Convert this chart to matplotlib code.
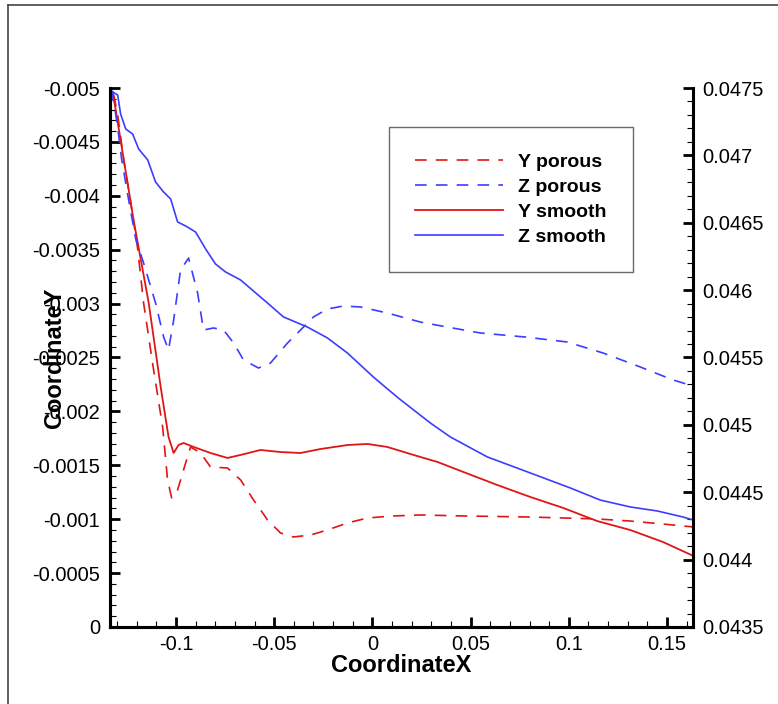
import matplotlib
matplotlib.use("Agg")
import matplotlib.pyplot as plt
from matplotlib.lines import Line2D
from matplotlib.ticker import MultipleLocator

plt.rcParams['font.family'] = ['Liberation Sans', 'DejaVu Sans']

# Y smooth (left axis)
y_smooth_x = [-0.1322, -0.1216, -0.1139, -0.1078, -0.1038, -0.1012, -0.0987, -0.0961,
              -0.0910, -0.0824, -0.0738, -0.0671, -0.0570, -0.0468, -0.0366, -0.0264,
              -0.0127, -0.0025, 0.0076, 0.0209, 0.0331, 0.0463, 0.0636, 0.0804,
              0.0972, 0.1144, 0.1312, 0.1480, 0.1633]
y_smooth = [-0.004963, -0.003776, -0.003006, -0.002226, -0.001763, -0.001614, -0.001688,
            -0.001707, -0.001670, -0.001614, -0.001568, -0.001596, -0.001642, -0.001623,
            -0.001614, -0.001651, -0.001688, -0.001698, -0.001670, -0.001596, -0.001531,
            -0.001438, -0.001317, -0.001206, -0.001104, -0.000983, -0.000900, -0.000788,
            -0.000660]

# Y porous (left axis)
y_porous_x = [-0.1317, -0.1297, -0.1267, -0.1231, -0.1195, -0.1165, -0.1114, -0.1068,
              -0.1043, -0.1022, -0.0992, -0.0951, -0.0926, -0.0875, -0.0824, -0.0738,
              -0.0671, -0.0605, -0.0534, -0.0468, -0.0402, -0.0315, -0.0229, -0.0127,
              -0.0025, 0.0107, 0.0244, 0.0463, 0.0804, 0.1144, 0.1312, 0.1480, 0.1633]
y_porous = [-0.004935, -0.004750, -0.004341, -0.003942, -0.003506, -0.003006, -0.002384,
            -0.001855, -0.001364, -0.001197, -0.001271, -0.001521, -0.001670, -0.001614,
            -0.001484, -0.001475, -0.001364, -0.001178, -0.000993, -0.000872, -0.000835,
            -0.000853, -0.000900, -0.000965, -0.001011, -0.001030, -0.001039, -0.001030,
            -0.001020, -0.001002, -0.000983, -0.000955, -0.000928]

# Z smooth (right axis)
z_smooth_x = [-0.1322, -0.1297, -0.1282, -0.1256, -0.1221, -0.1190, -0.1144, -0.1104,
              -0.1063, -0.1027, -0.0992, -0.0951, -0.0900, -0.0849, -0.0799, -0.0748,
              -0.0671, -0.0534, -0.0453, -0.0331, -0.0229, -0.0127, 0.0005, 0.0132,
              0.0295, 0.0397, 0.0585, 0.0804, 0.1007, 0.1160, 0.1312, 0.1450, 0.1582,
              0.1633]
z_smooth = [0.04747, 0.047448, 0.047307, 0.047196, 0.047159, 0.047047, 0.046966, 0.046802,
            0.046728, 0.046676, 0.046506, 0.046476, 0.046431, 0.046305, 0.046194, 0.046135,
            0.046075, 0.045904, 0.045801, 0.045726, 0.045645, 0.045533, 0.045355, 0.045199,
            0.045014, 0.044910, 0.044762, 0.044643, 0.044532, 0.044442, 0.044391, 0.044361,
            0.044316, 0.044294]

# Z porous (right axis)
z_porous_x = [-0.1328, -0.1307, -0.1292, -0.1277, -0.1241, -0.1205, -0.1165, -0.1104,
              -0.1063, -0.1038, -0.1012, -0.0977, -0.0936, -0.0890, -0.0860, -0.0809,
              -0.0758, -0.0707, -0.0656, -0.0580, -0.0519, -0.0432, -0.0366, -0.0300,
              -0.0229, -0.0148, -0.0061, 0.0076, 0.0244, 0.0381, 0.0549, 0.0778, 0.0992,
              0.1175, 0.1363, 0.1531, 0.1633]
z_porous = [0.047485, 0.047307, 0.047151, 0.046973, 0.046669, 0.046379, 0.046201, 0.045904,
            0.045652, 0.045556, 0.045778, 0.046149, 0.046238, 0.045979, 0.045704, 0.045719,
            0.045704, 0.045608, 0.045481, 0.045422, 0.045459, 0.045608, 0.045704, 0.045801,
            0.045860, 0.045882, 0.045875, 0.045830, 0.045763, 0.045726, 0.045682, 0.045652,
            0.045615, 0.045533, 0.045430, 0.045333, 0.045288]

x_ticks = [-0.1, -0.05, 0, 0.05, 0.1, 0.15]
x_labels = ['-0.1', '-0.05', '0', '0.05', '0.1', '0.15']
left_ticks = [-0.005, -0.0045, -0.004, -0.0035, -0.003, -0.0025, -0.002, -0.0015, -0.001, -0.0005, 0]
left_labels = ['-0.005', '-0.0045', '-0.004', '-0.0035', '-0.003', '-0.0025', '-0.002',
               '-0.0015', '-0.001', '-0.0005', '0']
right_ticks = [0.0435, 0.044, 0.0445, 0.045, 0.0455, 0.046, 0.0465, 0.047, 0.0475]
right_labels = ['0.0435', '0.044', '0.0445', '0.045', '0.0455', '0.046', '0.0465', '0.047', '0.0475']

RED = '#e01515'
BLUE = '#3d3dff'
DASH = (0, (7, 5.5))

fig = plt.figure(figsize=(7.78, 7.04), dpi=100)
ax = fig.add_axes([0.1414, 0.1094, 0.7493, 0.7656])
ax2 = ax.twinx()

l1, = ax.plot(y_porous_x, y_porous, color=RED, lw=1.2, linestyle=DASH, label='Y porous')
l3, = ax.plot(y_smooth_x, y_smooth, color=RED, lw=1.3, label='Y smooth')
l2, = ax2.plot(z_porous_x, z_porous, color=BLUE, lw=1.2, linestyle=DASH, label='Z porous')
l4, = ax2.plot(z_smooth_x, z_smooth, color=BLUE, lw=1.2, label='Z smooth')

ax.set_xlim(-0.1336, 0.1632)
ax.set_ylim(0, -0.005)
ax2.set_ylim(0.0435, 0.0475)

ax.set_xticks(x_ticks, x_labels)
ax.set_yticks(left_ticks, left_labels)
ax2.set_yticks(right_ticks, right_labels)
ax.xaxis.set_minor_locator(MultipleLocator(0.01))
ax.yaxis.set_minor_locator(MultipleLocator(0.0001))
ax2.yaxis.set_minor_locator(MultipleLocator(0.0001))

for a in (ax, ax2):
    a.tick_params(which='major', direction='in', length=7, width=2, labelsize=14.5, pad=7)
    a.tick_params(which='minor', direction='in', length=4.5, width=0.8)
    a.spines['top'].set_visible(False)
    for s in ('left', 'right', 'bottom'):
        a.spines[s].set_linewidth(2.2)
ax.tick_params(axis='x', which='major', pad=5.5)
ax.tick_params(top=False, right=False, which='both')
ax2.tick_params(top=False, which='both')
ax.spines['right'].set_visible(False)

ax.set_xlabel('CoordinateX', fontsize=17, fontweight='bold')
ax.xaxis.set_label_coords(0.5, -0.05)
ax.set_ylabel('CoordinateY', fontsize=17, fontweight='bold')
ax.yaxis.set_label_coords(-0.075, 0.5)

leg = ax2.legend(handles=[l1, l2, l3, l4], loc='upper left',
                 bbox_to_anchor=(389 / 778, 1 - 127 / 704), bbox_transform=fig.transFigure,
                 prop={'weight': 'bold', 'size': 14}, handlelength=4.5, handletextpad=0.8,
                 borderpad=1.35, labelspacing=0.38, borderaxespad=0, fancybox=False)
leg.get_frame().set_edgecolor('#444444')
leg.get_frame().set_linewidth(1.0)

# figure border (left and top edge)
fig.add_artist(Line2D([8 / 778, 8 / 778], [0, 1 - 5 / 704], transform=fig.transFigure,
                      color='#444444', lw=1.2))
fig.add_artist(Line2D([8 / 778, 1], [1 - 5 / 704, 1 - 5 / 704], transform=fig.transFigure,
                      color='#444444', lw=1.2))

fig.savefig('out.png', dpi=100)
